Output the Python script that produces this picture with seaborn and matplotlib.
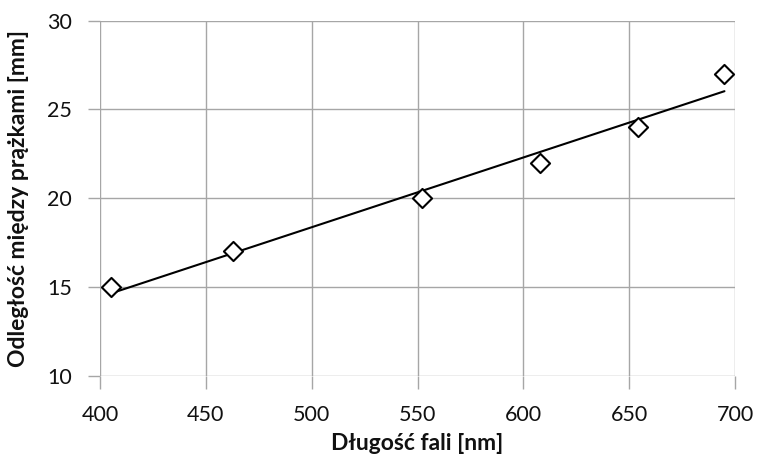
import numpy as np
import pandas as pd
import matplotlib
matplotlib.use("Agg")
import matplotlib.pyplot as plt
import seaborn as sns

wavelength = [405, 463, 552, 608, 654, 695]
distance = [15, 17, 20, 22, 24, 27]
x_ticks = [400, 450, 500, 550, 600, 650, 700]
y_ticks = [10, 15, 20, 25, 30]

df = pd.DataFrame({"wl": wavelength, "d": distance})

sns.set_theme(style="white")
plt.rcParams['font.family'] = ['Lato', 'DejaVu Sans']

fig = plt.figure(figsize=(7.57, 4.62), dpi=100)
ax = fig.add_axes([0.1321, 0.1868, 0.971 - 0.1321, 0.9552 - 0.1868])

grid_c = "#a6a6a6"
sns.regplot(data=df, x="wl", y="d", ax=ax, ci=None, truncate=True,
            scatter=False, line_kws=dict(color="black", lw=1.5))
sns.scatterplot(data=df, x="wl", y="d", ax=ax, marker="D", s=95,
                facecolor="white", edgecolor="black", linewidth=1.5, zorder=5)

ax.set_xlim(400, 700)
ax.set_ylim(10, 30)
ax.set_xticks(x_ticks)
ax.set_yticks(y_ticks)
ax.grid(True, color=grid_c, lw=1.0)
for s in ax.spines.values():
    s.set_visible(False)
ax.tick_params(axis="both", which="both", length=9, width=1.0, color=grid_c,
               labelsize=15.5, labelcolor="#111111")
ax.tick_params(axis="x", pad=12, bottom=True)
ax.tick_params(axis="y", pad=11, left=True)
ax.set_axisbelow(True)

ax.set_xlabel("Długość fali [nm]", fontsize=16.5, fontweight="bold", color="#111111", labelpad=6)
ax.set_ylabel("Odległość między prążkami [mm]", fontsize=16.5, fontweight="bold", color="#111111", labelpad=13)

fig.savefig("out.png", dpi=100)
